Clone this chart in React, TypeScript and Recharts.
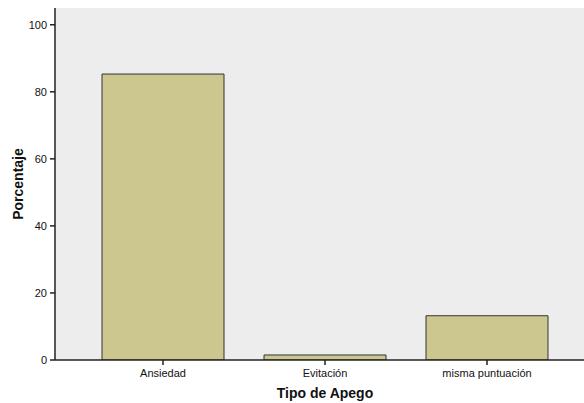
import { Bar, BarChart, CartesianGrid, XAxis, YAxis } from 'recharts';

const categories = ['Ansiedad', 'Evitación', 'misma puntuación'];
const percentages = [85.3, 1.5, 13.2];
const yTicks = [0, 20, 40, 60, 80, 100];

const data = categories.map((tipo, i) => ({ tipo, porcentaje: percentages[i] }));

const axisColor = '#222222';
const font = '"Liberation Sans", Arial, sans-serif';

export default function App() {
  return (
    <div
      style={{
        position: 'absolute',
        left: 0,
        top: 0,
        width: 584,
        height: 403,
        overflow: 'hidden',
        background: '#ffffff'
      }}
    >
      <BarChart
        width={610}
        height={404}
        data={data}
        margin={{ top: 8, right: 15, left: 0, bottom: 0 }}
        style={{ fontFamily: font }}
      >
        <CartesianGrid horizontal={false} vertical={false} fill="#EDEDED" />

        <XAxis
          xAxisId="top"
          orientation="top"
          dataKey="tipo"
          height={0}
          tick={false}
          tickLine={false}
          axisLine={{ stroke: axisColor, strokeWidth: 1.5 }}
        />

        <XAxis
          dataKey="tipo"
          height={44}
          padding={{ left: 27, right: 27 }}
          tickSize={5}
          tickMargin={4}
          tick={{ fontSize: 11, fill: '#111' }}
          tickLine={{ stroke: axisColor, strokeWidth: 1.5 }}
          axisLine={{ stroke: axisColor, strokeWidth: 1.5 }}
          label={{
            value: 'Tipo de Apego',
            position: 'insideBottom',
            offset: 6,
            style: { fontSize: 14, fontWeight: 'bold', fill: '#111' }
          }}
        />

        <YAxis
          width={55}
          domain={[0, 105]}
          ticks={yTicks}
          allowDataOverflow
          tickSize={5}
          tickMargin={3}
          tick={{ fontSize: 11, fill: '#111' }}
          tickLine={{ stroke: axisColor, strokeWidth: 1.5 }}
          axisLine={{ stroke: axisColor, strokeWidth: 1.5 }}
          label={{
            value: 'Porcentaje',
            angle: -90,
            position: 'insideLeft',
            offset: 18,
            style: { fontSize: 14, fontWeight: 'bold', fill: '#111', textAnchor: 'middle' }
          }}
        />

        <Bar
          dataKey="porcentaje"
          fill="#CCC68F"
          stroke="#333333"
          strokeWidth={1}
          barSize={122}
          isAnimationActive={false}
        />
      </BarChart>
    </div>
  );
}
